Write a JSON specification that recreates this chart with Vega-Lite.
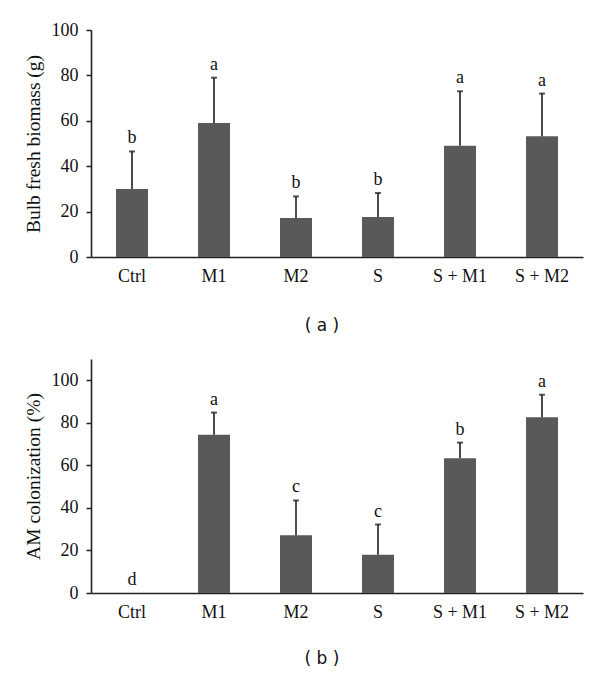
{
  "$schema": "https://vega.github.io/schema/vega-lite/v6.json",
  "padding": {"left": 23, "top": 21, "right": 10, "bottom": 5},
  "background": "white",
  "spacing": 25,
  "datasets": {
    "a": [
      {"treatment": "Ctrl", "mean": 30, "upper": 46.5, "letter": "b"},
      {"treatment": "M1", "mean": 59, "upper": 79, "letter": "a"},
      {"treatment": "M2", "mean": 17.2, "upper": 26.7, "letter": "b"},
      {"treatment": "S", "mean": 17.6, "upper": 28.2, "letter": "b"},
      {"treatment": "S + M1", "mean": 49, "upper": 73, "letter": "a"},
      {"treatment": "S + M2", "mean": 53.2, "upper": 72, "letter": "a"}
    ],
    "b": [
      {"treatment": "Ctrl", "mean": 0, "upper": 0, "letter": "d"},
      {"treatment": "M1", "mean": 74.4, "upper": 84.8, "letter": "a"},
      {"treatment": "M2", "mean": 27.2, "upper": 43.5, "letter": "c"},
      {"treatment": "S", "mean": 18, "upper": 32.2, "letter": "c"},
      {"treatment": "S + M1", "mean": 63.3, "upper": 70.7, "letter": "b"},
      {"treatment": "S + M2", "mean": 82.6, "upper": 93.2, "letter": "a"}
    ]
  },
  "config": {
    "view": {"stroke": null},
    "axis": {
      "labelFont": "Liberation Serif",
      "labelFontSize": 18,
      "labelColor": "#111",
      "titleFont": "Liberation Serif",
      "titleFontSize": 19.5,
      "titleFontWeight": "normal",
      "titleColor": "#111",
      "domainColor": "#222",
      "domainWidth": 1.6,
      "tickColor": "#222",
      "tickWidth": 1.5,
      "grid": false
    },
    "title": {"font": "DejaVu Sans", "fontSize": 17, "fontWeight": "normal", "color": "#111"}
  },
  "vconcat": [
    {
      "width": 492,
      "height": 227,
      "data": {"name": "a"},
      "title": {"text": "( a )", "orient": "bottom", "offset": 33, "dx": -15},
      "encoding": {
        "x": {
          "field": "treatment", "type": "nominal", "sort": null,
          "scale": {"paddingInner": 0.61, "paddingOuter": 0.305},
          "axis": {"title": null, "labelAngle": 0, "ticks": false, "labelPadding": 10}
        }
      },
      "layer": [
        {
          "mark": {"type": "bar", "color": "#595959"},
          "encoding": {
            "y": {"field": "mean", "type": "quantitative",
              "scale": {"domain": [0, 100]},
              "axis": {"title": "Bulb fresh biomass (g)", "values": [0, 20, 40, 60, 80, 100], "tickSize": 5, "labelPadding": 8, "titlePadding": 8}}
          }
        },
        {
          "mark": {"type": "rule", "color": "#111", "strokeWidth": 1.5},
          "encoding": {"y": {"field": "mean", "type": "quantitative"}, "y2": {"field": "upper"}}
        },
        {
          "mark": {"type": "tick", "color": "#111", "size": 6, "thickness": 2},
          "encoding": {"y": {"field": "upper", "type": "quantitative"}}
        },
        {
          "mark": {"type": "text", "baseline": "bottom", "dy": -4, "font": "Liberation Serif", "fontSize": 18, "color": "#111"},
          "encoding": {"y": {"field": "upper", "type": "quantitative"}, "text": {"field": "letter"}}
        }
      ]
    },
    {
      "width": 492,
      "height": 234,
      "data": {"name": "b"},
      "title": {"text": "( b )", "orient": "bottom", "offset": 30, "dx": -15},
      "encoding": {
        "x": {
          "field": "treatment", "type": "nominal", "sort": null,
          "scale": {"paddingInner": 0.61, "paddingOuter": 0.305},
          "axis": {"title": null, "labelAngle": 0, "ticks": false, "labelPadding": 10}
        }
      },
      "layer": [
        {
          "mark": {"type": "bar", "color": "#595959"},
          "encoding": {
            "y": {"field": "mean", "type": "quantitative",
              "scale": {"domain": [0, 110], "nice": false},
              "axis": {"title": "AM colonization (%)", "values": [0, 20, 40, 60, 80, 100], "tickSize": 5, "labelPadding": 8, "titlePadding": 8}}
          }
        },
        {
          "mark": {"type": "rule", "color": "#111", "strokeWidth": 1.5},
          "encoding": {"y": {"field": "mean", "type": "quantitative"}, "y2": {"field": "upper"}}
        },
        {
          "transform": [{"filter": "datum.upper > 0"}],
          "mark": {"type": "tick", "color": "#111", "size": 6, "thickness": 2},
          "encoding": {"y": {"field": "upper", "type": "quantitative"}}
        },
        {
          "mark": {"type": "text", "baseline": "bottom", "dy": -4, "font": "Liberation Serif", "fontSize": 18, "color": "#111"},
          "encoding": {"y": {"field": "upper", "type": "quantitative"}, "text": {"field": "letter"}}
        }
      ]
    }
  ]
}
